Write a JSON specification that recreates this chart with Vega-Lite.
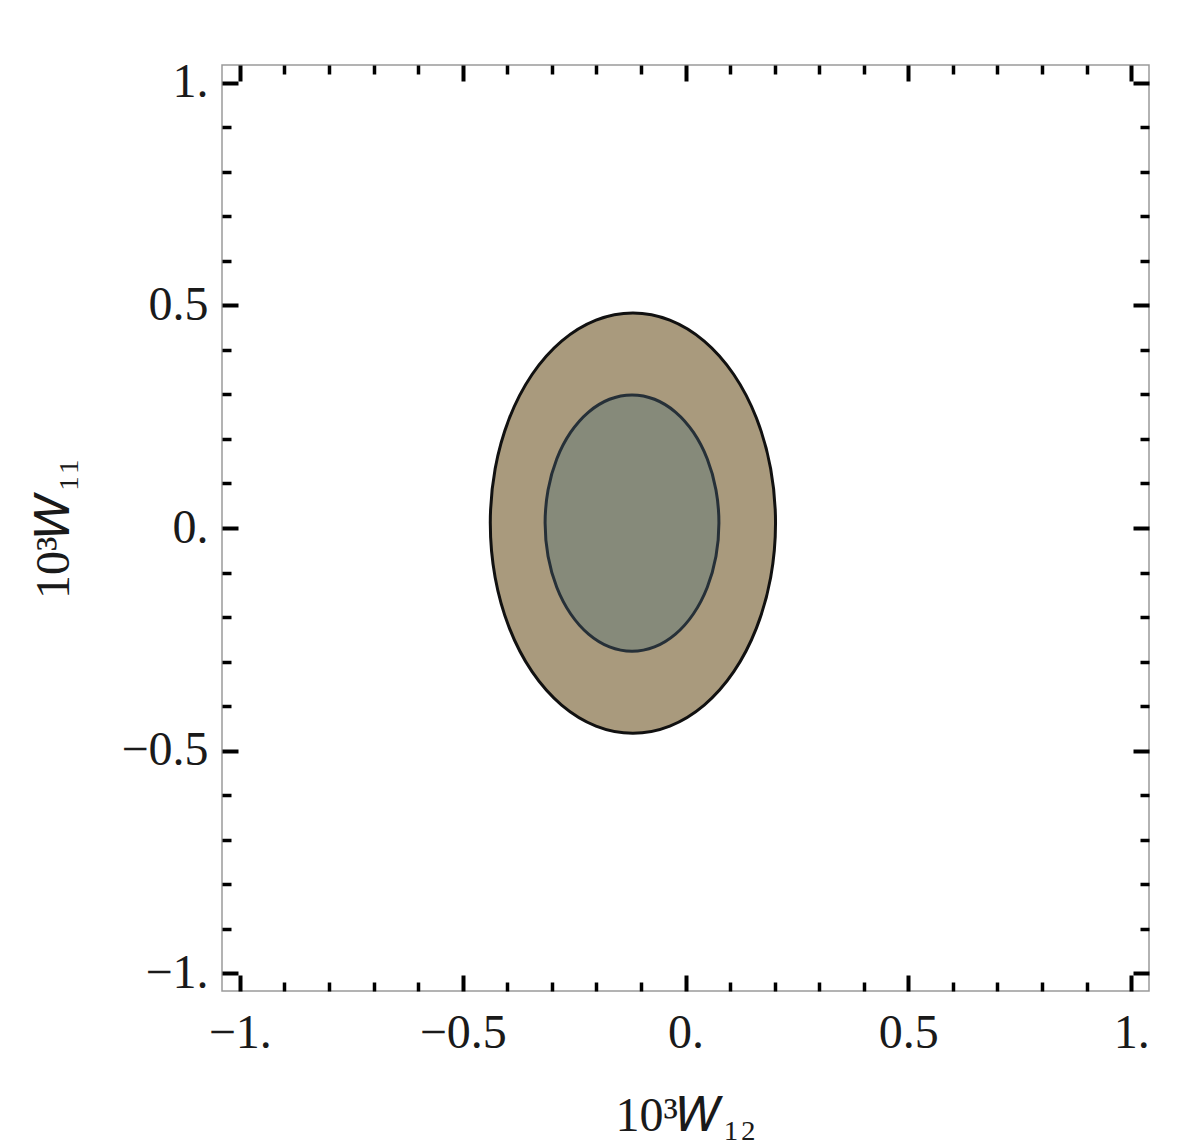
{
  "$schema": "https://vega.github.io/schema/vega-lite/v6.json",
  "width": 927,
  "height": 926,
  "autosize": "none",
  "padding": {"left": 222, "top": 65, "right": 32, "bottom": 153},
  "background": "white",
  "config": {
    "view": {"stroke": "#9a9a9a", "strokeWidth": 1.5},
    "axis": {
      "domain": false,
      "grid": false,
      "tickColor": "black",
      "labelFont": "Liberation Serif",
      "labelFontSize": 48,
      "labelColor": "#1a1a1a",
      "labelOverlap": false,
      "labelBound": false,
      "labelFlush": false,
      "titleFont": "Liberation Serif",
      "titleFontSize": 48,
      "titleFontWeight": "normal",
      "titleColor": "#1a1a1a"
    }
  },
  "datasets": {
    "outer": [
      {"i": 0, "x": 0.202, "y": 0.011},
      {"i": 1, "x": 0.1911, "y": 0.1332},
      {"i": 2, "x": 0.1591, "y": 0.247},
      {"i": 3, "x": 0.1083, "y": 0.3448},
      {"i": 4, "x": 0.042, "y": 0.4198},
      {"i": 5, "x": -0.0352, "y": 0.4669},
      {"i": 6, "x": -0.118, "y": 0.483},
      {"i": 7, "x": -0.2008, "y": 0.4669},
      {"i": 8, "x": -0.278, "y": 0.4198},
      {"i": 9, "x": -0.3443, "y": 0.3448},
      {"i": 10, "x": -0.3951, "y": 0.247},
      {"i": 11, "x": -0.4271, "y": 0.1332},
      {"i": 12, "x": -0.438, "y": 0.011},
      {"i": 13, "x": -0.4271, "y": -0.1112},
      {"i": 14, "x": -0.3951, "y": -0.225},
      {"i": 15, "x": -0.3443, "y": -0.3228},
      {"i": 16, "x": -0.278, "y": -0.3978},
      {"i": 17, "x": -0.2008, "y": -0.4449},
      {"i": 18, "x": -0.118, "y": -0.461},
      {"i": 19, "x": -0.0352, "y": -0.4449},
      {"i": 20, "x": 0.042, "y": -0.3978},
      {"i": 21, "x": 0.1083, "y": -0.3228},
      {"i": 22, "x": 0.1591, "y": -0.225},
      {"i": 23, "x": 0.1911, "y": -0.1112}
    ],
    "inner": [
      {"i": 0, "x": 0.075, "y": 0.011},
      {"i": 1, "x": 0.0684, "y": 0.0855},
      {"i": 2, "x": 0.0489, "y": 0.155},
      {"i": 3, "x": 0.0179, "y": 0.2146},
      {"i": 4, "x": -0.0225, "y": 0.2604},
      {"i": 5, "x": -0.0695, "y": 0.2892},
      {"i": 6, "x": -0.12, "y": 0.299},
      {"i": 7, "x": -0.1705, "y": 0.2892},
      {"i": 8, "x": -0.2175, "y": 0.2604},
      {"i": 9, "x": -0.2579, "y": 0.2146},
      {"i": 10, "x": -0.2889, "y": 0.155},
      {"i": 11, "x": -0.3084, "y": 0.0855},
      {"i": 12, "x": -0.315, "y": 0.011},
      {"i": 13, "x": -0.3084, "y": -0.0635},
      {"i": 14, "x": -0.2889, "y": -0.133},
      {"i": 15, "x": -0.2579, "y": -0.1926},
      {"i": 16, "x": -0.2175, "y": -0.2384},
      {"i": 17, "x": -0.1705, "y": -0.2672},
      {"i": 18, "x": -0.12, "y": -0.277},
      {"i": 19, "x": -0.0695, "y": -0.2672},
      {"i": 20, "x": -0.0225, "y": -0.2384},
      {"i": 21, "x": 0.0179, "y": -0.1926},
      {"i": 22, "x": 0.0489, "y": -0.133},
      {"i": 23, "x": 0.0684, "y": -0.0635}
    ]
  },
  "resolve": {"axis": {"x": "independent", "y": "independent"}},
  "layer": [
    {
      "data": {"name": "outer"},
      "mark": {"type": "line", "interpolate": "cardinal-closed", "fill": "#a99a7d", "stroke": "#111111", "strokeWidth": 3},
      "encoding": {
        "order": {"field": "i", "type": "quantitative"},
        "x": {
          "field": "x", "type": "quantitative",
          "scale": {"domain": [-1.04, 1.04], "nice": false, "zero": false},
          "axis": {
            "orient": "bottom",
            "title": "10³𝑊₁₂",
            "titlePadding": 28,
            "values": [-1,-0.9,-0.8,-0.7,-0.6,-0.5,-0.4,-0.3,-0.2,-0.1,0,0.1,0.2,0.3,0.4,0.5,0.6,0.7,0.8,0.9,1],
            "tickSize": {"condition": {"test": "abs(datum.value*2-round(datum.value*2))<0.001", "value": -16}, "value": -9},
            "tickWidth": {"condition": {"test": "abs(datum.value*2-round(datum.value*2))<0.001", "value": 4}, "value": 3.5},
            "labelPadding": 34,
            "labelExpr": "datum.value==1?'1.':datum.value==-1?'−1.':datum.value==0?'0.':datum.value==0.5?'0.5':datum.value==-0.5?'−0.5':''"
          }
        },
        "y": {
          "field": "y", "type": "quantitative",
          "scale": {"domain": [-1.04, 1.04], "nice": false, "zero": false},
          "axis": {
            "orient": "left",
            "title": "10³𝑊₁₁",
            "titlePadding": 42,
            "values": [-1,-0.9,-0.8,-0.7,-0.6,-0.5,-0.4,-0.3,-0.2,-0.1,0,0.1,0.2,0.3,0.4,0.5,0.6,0.7,0.8,0.9,1],
            "tickSize": {"condition": {"test": "abs(datum.value*2-round(datum.value*2))<0.001", "value": -16}, "value": -9},
            "tickWidth": {"condition": {"test": "abs(datum.value*2-round(datum.value*2))<0.001", "value": 4}, "value": 3.5},
            "labelPadding": 30,
            "labelExpr": "datum.value==1?'1.':datum.value==-1?'−1.':datum.value==0?'0.':datum.value==0.5?'0.5':datum.value==-0.5?'−0.5':''"
          }
        }
      }
    },
    {
      "data": {"name": "inner"},
      "mark": {"type": "line", "interpolate": "cardinal-closed", "fill": "#868a7a", "stroke": "#263038", "strokeWidth": 3},
      "encoding": {
        "order": {"field": "i", "type": "quantitative"},
        "x": {
          "field": "x", "type": "quantitative",
          "scale": {"domain": [-1.04, 1.04], "nice": false, "zero": false},
          "axis": {
            "orient": "top",
            "title": null,
            "labels": false,
            "values": [-1,-0.9,-0.8,-0.7,-0.6,-0.5,-0.4,-0.3,-0.2,-0.1,0,0.1,0.2,0.3,0.4,0.5,0.6,0.7,0.8,0.9,1],
            "tickSize": {"condition": {"test": "abs(datum.value*2-round(datum.value*2))<0.001", "value": -16}, "value": -9},
            "tickWidth": {"condition": {"test": "abs(datum.value*2-round(datum.value*2))<0.001", "value": 4}, "value": 3.5}
          }
        },
        "y": {
          "field": "y", "type": "quantitative",
          "scale": {"domain": [-1.04, 1.04], "nice": false, "zero": false},
          "axis": {
            "orient": "right",
            "title": null,
            "labels": false,
            "values": [-1,-0.9,-0.8,-0.7,-0.6,-0.5,-0.4,-0.3,-0.2,-0.1,0,0.1,0.2,0.3,0.4,0.5,0.6,0.7,0.8,0.9,1],
            "tickSize": {"condition": {"test": "abs(datum.value*2-round(datum.value*2))<0.001", "value": -16}, "value": -9},
            "tickWidth": {"condition": {"test": "abs(datum.value*2-round(datum.value*2))<0.001", "value": 4}, "value": 3.5}
          }
        }
      }
    }
  ]
}
